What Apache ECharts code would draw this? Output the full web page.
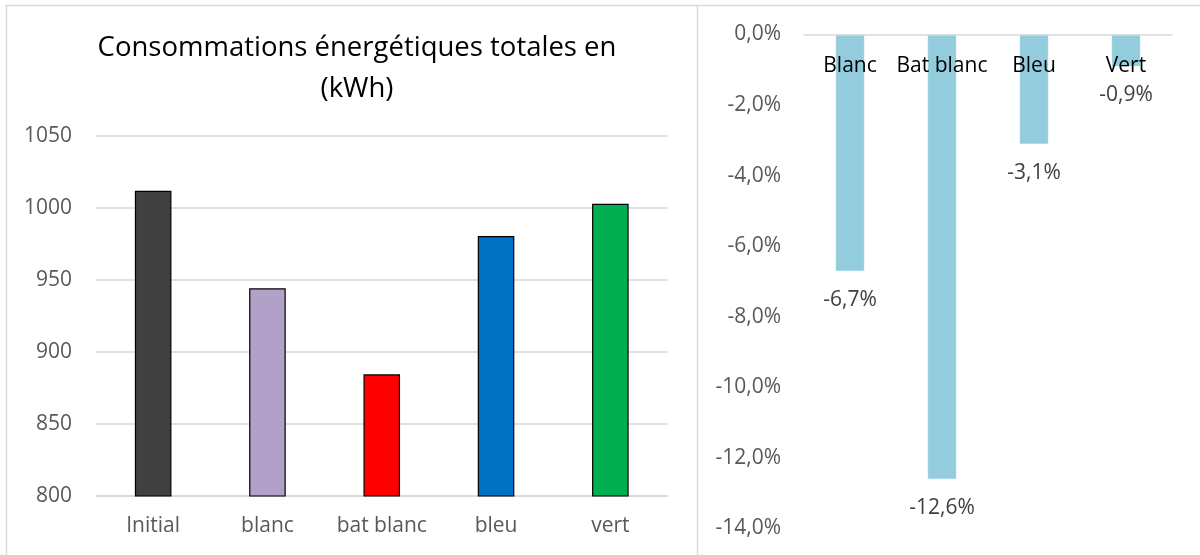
<!DOCTYPE html>
<html>
<head>
<meta charset="utf-8">
<script src="https://cdn.jsdelivr.net/npm/echarts@6/dist/echarts.min.js"></script>
<style>
  html, body { margin: 0; padding: 0; background: #fff; }
  #chart { width: 1200px; height: 555px; }
</style>
</head>
<body>
<div id="chart"></div>
<script>
// Total energy consumption per scenario (kWh)
const consoCategories = ['Initial', 'blanc', 'bat blanc', 'bleu', 'vert'];
const consoValues = [1012, 944.2, 884.5, 980.6, 1002.9];
const consoColors = ['#404040', '#B1A0C7', '#FF0000', '#0070C0', '#00B050'];

// Relative change vs. the initial case (%)
const ecartCategories = ['Blanc', 'Bat blanc', 'Bleu', 'Vert'];
const ecartValues = [-6.7, -12.6, -3.1, -0.9];

const FONT = '"Open Sans", "Noto Sans", sans-serif';
const fmtPct = (v, d) => v.toFixed(d).replace('.', ',') + '%';

const chart = echarts.init(document.getElementById('chart'), null, { renderer: 'canvas' });

chart.setOption({
  backgroundColor: '#ffffff',
  animation: false,
  textStyle: { fontFamily: FONT },
  title: {
    text: 'Consommations énergétiques totales en\n(kWh)',
    left: 352,
    top: 23,
    textAlign: 'center',
    textStyle: { fontFamily: FONT, fontSize: 27.5, fontWeight: 'normal', color: '#000', lineHeight: 41 }
  },
  graphic: [
    { type: 'line', shape: { x1: 5, y1: 5.5, x2: 1200, y2: 5.5 }, style: { stroke: '#d9d9d9', lineWidth: 1.5 } },
    { type: 'line', shape: { x1: 6.5, y1: 5, x2: 6.5, y2: 555 }, style: { stroke: '#d9d9d9', lineWidth: 1.5 } },
    { type: 'line', shape: { x1: 697.5, y1: 5, x2: 697.5, y2: 555 }, style: { stroke: '#d9d9d9', lineWidth: 1.5 } }
  ],
  grid: [
    { left: 96, width: 571.5, top: 136, height: 360 },
    { left: 804, width: 368, top: 34.5, height: 494 }
  ],
  xAxis: [
    {
      gridIndex: 0,
      type: 'category',
      data: consoCategories,
      axisLine: { lineStyle: { color: '#d9d9d9', width: 1.5 } },
      axisTick: { show: false },
      axisLabel: { interval: 0, color: '#595959', fontSize: 21, margin: 20, fontFamily: FONT }
    },
    {
      gridIndex: 1,
      type: 'category',
      data: ecartCategories,
      position: 'top',
      axisLine: { onZero: false, lineStyle: { color: '#d9d9d9', width: 1.5 } },
      axisTick: { show: false },
      axisLabel: { interval: 0, inside: true, color: '#000', fontSize: 21, margin: 21, fontFamily: FONT },
      z: 5
    }
  ],
  yAxis: [
    {
      gridIndex: 0,
      type: 'value',
      min: 800,
      max: 1050,
      interval: 50,
      axisLine: { show: false },
      axisTick: { show: false },
      splitLine: { lineStyle: { color: '#d9d9d9', width: 1.5 } },
      axisLabel: { color: '#595959', fontSize: 21, margin: 24, fontFamily: FONT, formatter: v => String(v) }
    },
    {
      gridIndex: 1,
      type: 'value',
      min: -14,
      max: 0,
      interval: 2,
      axisLine: { show: false },
      axisTick: { show: false },
      splitLine: { show: false },
      axisLabel: {
        color: '#595959', fontSize: 21, margin: 23, fontFamily: FONT,
        formatter: v => fmtPct(v, 1)
      }
    }
  ],
  series: [
    {
      type: 'bar',
      xAxisIndex: 0,
      yAxisIndex: 0,
      barWidth: '32%',
      data: consoValues.map((v, i) => ({
        value: v,
        itemStyle: { color: consoColors[i], borderColor: '#000', borderWidth: 1.2 }
      }))
    },
    {
      type: 'bar',
      xAxisIndex: 1,
      yAxisIndex: 1,
      barWidth: '31%',
      itemStyle: { color: '#93CDDD', borderColor: '#B7DEE8', borderWidth: 0.5 },
      label: {
        show: true,
        position: 'bottom',
        distance: 18.5,
        color: '#404040',
        fontSize: 21,
        fontFamily: FONT,
        formatter: p => fmtPct(p.value, 1)
      },
      data: ecartValues
    }
  ]
});
</script>
</body>
</html>
